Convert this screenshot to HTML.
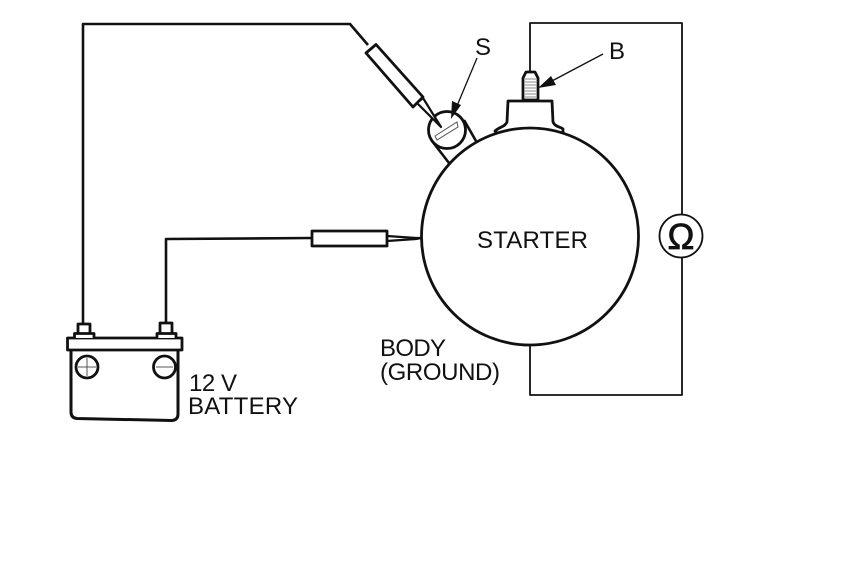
<!DOCTYPE html>
<html>
<head>
<meta charset="utf-8">
<style>
html,body{margin:0;padding:0;background:#fff;width:860px;height:580px;overflow:hidden}
svg{display:block}
text{font-family:"Liberation Sans",sans-serif;fill:#111;font-size:24px}
.k{fill:none;stroke:#111;stroke-width:2.6;stroke-linejoin:round}
.w{fill:#fff;stroke:#111;stroke-width:2.8;stroke-linejoin:round}
.t{fill:none;stroke:#555;stroke-width:1}
</style>
</head>
<body>
<svg width="860" height="580" viewBox="0 0 860 580" xmlns="http://www.w3.org/2000/svg">
<!-- right meter loop -->
<path class="k" style="stroke-width:1.8" d="M530 72V23H682V395H530V345"/>
<!-- solenoid mount -->
<path class="k" d="M464 120L476 141M432 141L449 163"/>
<!-- solenoid -->
<circle class="w" cx="447" cy="130" r="18.5"/>
<path class="t" d="M435 136L457 122L458 127L437 140Z"/>
<!-- starter terminal base -->
<path class="w" d="M495 131C499 127 505 127 507 122L508 101H552L553 122C555 127 561 127 563 129L563 133H497Z"/>
<!-- stud -->
<path class="w" d="M523 100V78L526 72H535L538 78V100Z"/>
<path d="M525 79H536M525 82H536M525 85H536M525 88H536M525 91H536M525 94H536M525 97H536" stroke="#888" stroke-width="1" fill="none"/>
<!-- starter body -->
<circle cx="530" cy="236.500" r="108.500" fill="#fff" stroke="#111" stroke-width="2.800"/>
<!-- lead to S -->
<path class="k" d="M83 324V24H350L368 45"/>
<path class="w" d="M366 53L376 44.500L423 97L413 107Z"/>
<path class="w" style="stroke-width:2.200" d="M417 103L441 127L423 98Z"/>
<!-- lead to body -->
<path class="k" d="M166 323V239L312 238"/>
<rect class="w" x="312" y="231" width="75" height="15"/>
<path class="k" style="stroke-width:2.200" d="M387 236L416 238L421 238L416 239L387 241"/>
<!-- arrows -->
<path d="M477 58L454 113" stroke="#111" stroke-width="1.300" fill="none"/>
<path d="M451 119L452 101L461 105Z" fill="#111"/>
<path d="M603 54L550 82" stroke="#111" stroke-width="1.300" fill="none"/>
<path d="M538 88L551 76L556 85Z" fill="#111"/>
<!-- ohmmeter -->
<circle cx="681" cy="236" r="21.500" fill="#fff" stroke="#111" stroke-width="1.800"/>
<text x="681" y="249" text-anchor="middle" style="font-size:36px;stroke:#111;stroke-width:.8">Ω</text>
<!-- battery -->
<path class="k" style="stroke-width:3" d="M71 350V412Q71 418 77 418.500L172 420.500Q178 420 178 414V350"/>
<rect class="w" x="67.500" y="338" width="114.500" height="12"/>
<path class="w" d="M78 333V324H90V333M74.500 338V333.500H94V338"/>
<path class="w" d="M160 333V323H172V333M157 338V333.500H176V338"/>
<circle cx="87" cy="367" r="11" fill="#fff" stroke="#111" stroke-width="2.800"/>
<path class="t" d="M87 358V376M78 367H96"/>
<circle cx="164.500" cy="367" r="11" fill="#fff" stroke="#111" stroke-width="2.800"/>
<path class="t" d="M156 367H173"/>
<!-- labels -->
<text x="477" y="248" textLength="111">STARTER</text>
<text x="475" y="55">S</text>
<text x="609" y="59">B</text>
<text x="189" y="391" textLength="48">12 V</text>
<text x="188" y="414" textLength="110">BATTERY</text>
<text x="380" y="356" textLength="66">BODY</text>
<text x="380" y="380" textLength="120">(GROUND)</text>
</svg>
</body>
</html>
